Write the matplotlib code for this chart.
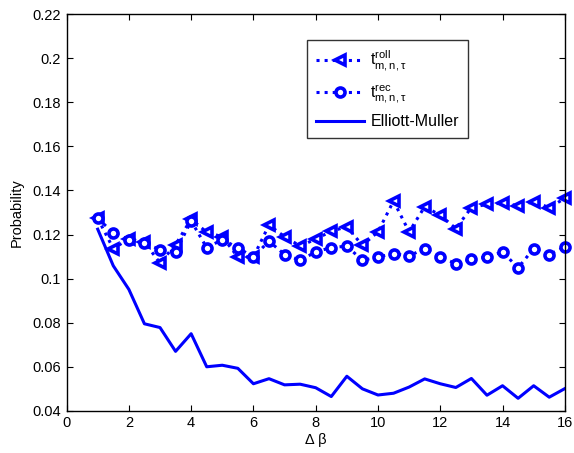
import numpy as np
import matplotlib
matplotlib.use("Agg")
import matplotlib.pyplot as plt

plt.rcParams['font.family'] = ['Liberation Sans', 'DejaVu Sans']
plt.rcParams['mathtext.fontset'] = 'custom'
plt.rcParams['mathtext.rm'] = 'Liberation Sans'
plt.rcParams['mathtext.it'] = 'Liberation Sans:italic'
plt.rcParams['mathtext.bf'] = 'Liberation Sans:bold'

# Delta beta grid
delta_beta = [1, 1.5, 2, 2.5, 3, 3.5, 4, 4.5, 5, 5.5, 6, 6.5, 7, 7.5, 8,
              8.5, 9, 9.5, 10, 10.5, 11, 11.5, 12, 12.5, 13, 13.5, 14,
              14.5, 15, 15.5, 16]

# rolling window statistic
p_roll = [0.1273, 0.1136, 0.1180, 0.1165, 0.1071, 0.1154, 0.1270, 0.1210,
          0.1190, 0.1098, 0.1098, 0.1243, 0.1190, 0.1148, 0.1179, 0.1215,
          0.1235, 0.1151, 0.1212, 0.1352, 0.1212, 0.1326, 0.1288, 0.1227,
          0.1322, 0.1337, 0.1342, 0.1331, 0.1349, 0.1322, 0.1364]

# recursive statistic
p_rec = [0.1273, 0.1208, 0.1177, 0.1162, 0.1131, 0.1120, 0.1262, 0.1140,
         0.1177, 0.1140, 0.1098, 0.1170, 0.1109, 0.1083, 0.1121, 0.1141,
         0.1147, 0.1083, 0.1098, 0.1113, 0.1103, 0.1136, 0.1098, 0.1068,
         0.1087, 0.1098, 0.1121, 0.1049, 0.1136, 0.1109, 0.1144]

# Elliott-Muller test
p_em = [0.1224, 0.1058, 0.0951, 0.0795, 0.0778, 0.0670, 0.0750, 0.0600,
        0.0607, 0.0593, 0.0523, 0.0546, 0.0518, 0.0521, 0.0505, 0.0465,
        0.0557, 0.0500, 0.0472, 0.0480, 0.0508, 0.0545, 0.0523, 0.0506,
        0.0547, 0.0471, 0.0514, 0.0457, 0.0514, 0.0462, 0.0501]

blue = (0, 0, 1)

fig = plt.figure(figsize=(5.74, 4.53), dpi=100)
ax = fig.add_axes([0.116, 0.093, 0.868, 0.876])

ax.plot(delta_beta, p_roll, linestyle=':', color=blue, linewidth=2.2,
        marker='<', markersize=7, markerfacecolor='white',
        markeredgewidth=2.6, markeredgecolor=blue, clip_on=False,
        label=r't$^{\rm roll}_{\rm m,n,\tau}$')
ax.plot(delta_beta, p_rec, linestyle=':', color=blue, linewidth=2.2,
        marker='o', markersize=6.5, markerfacecolor='white',
        markeredgewidth=2.6, markeredgecolor=blue, clip_on=False,
        label=r't$^{\rm rec}_{\rm m,n,\tau}$')
ax.plot(delta_beta, p_em, linestyle='-', color=blue, linewidth=2.2,
        label='Elliott-Muller')

ax.set_xlim(0, 16)
ax.set_ylim(0.04, 0.22)
ax.set_xticks(np.arange(0, 17, 2))
ax.set_yticks(np.arange(0.04, 0.2201, 0.02))
ax.set_yticklabels(['0.04', '0.06', '0.08', '0.1', '0.12', '0.14',
                    '0.16', '0.18', '0.2', '0.22'])
ax.tick_params(direction='in', length=4, labelsize=10.5, top=True, right=True,
               pad=4)
for s in ax.spines.values():
    s.set_linewidth(1)

ax.set_xlabel('Δ β', fontsize=10.5, labelpad=2)
ax.set_ylabel('Probability', fontsize=10.5, labelpad=6)

leg = ax.legend(loc='upper left', bbox_to_anchor=(0.483, 0.935), fontsize=11.5,
                frameon=True, fancybox=False, edgecolor='black',
                handlelength=3.0, handletextpad=0.4, labelspacing=0.55,
                borderpad=0.55, borderaxespad=0)
leg.get_frame().set_linewidth(1)

fig.savefig('out.png', dpi=100)
